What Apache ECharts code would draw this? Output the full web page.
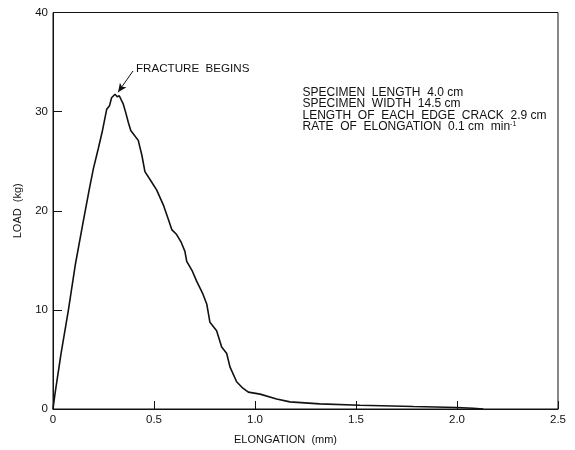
<!DOCTYPE html>
<html>
<head>
<meta charset="utf-8">
<script src="https://cdn.jsdelivr.net/npm/echarts@6/dist/echarts.min.js"></script>
<style>html,body{margin:0;padding:0;background:#fff}#c{width:575px;height:450px}</style>
</head>
<body>
<div id="c"></div>
<script>
var elongation = [0, 0.01, 0.04, 0.076, 0.11, 0.15, 0.18, 0.2, 0.224, 0.245, 0.266, 0.28, 0.29, 0.307, 0.318, 0.328, 0.348, 0.36, 0.373, 0.385, 0.398, 0.422, 0.44, 0.455, 0.485, 0.513, 0.546, 0.57, 0.588, 0.612, 0.635, 0.653, 0.662, 0.69, 0.711, 0.74, 0.761, 0.777, 0.81, 0.835, 0.86, 0.876, 0.909, 0.94, 0.967, 1.025, 1.107, 1.173, 1.32, 1.52, 1.784, 2.0, 2.08, 2.13];
var load = [0, 1.55, 5.6, 9.95, 14.5, 18.95, 22.2, 24.25, 26.25, 28.1, 30.25, 30.6, 31.4, 31.75, 31.5, 31.6, 30.75, 29.9, 28.9, 28.1, 27.75, 27.1, 25.6, 23.95, 23.0, 22.1, 20.6, 19.2, 18.1, 17.6, 16.8, 15.9, 14.9, 13.9, 12.9, 11.7, 10.6, 8.75, 7.9, 6.25, 5.6, 4.25, 2.75, 2.1, 1.7, 1.5, 1.0, 0.72, 0.52, 0.38, 0.25, 0.15, 0.08, 0];
var xTicks = [0, 0.5, 1.0, 1.5, 2.0, 2.5];
var xTickLabels = ['0', '0.5', '1.0', '1.5', '2.0', '2.5'];
var yTicks = [0, 10, 20, 30, 40];
var noteLines = ['SPECIMEN  LENGTH  4.0 cm', 'SPECIMEN  WIDTH  14.5 cm', 'LENGTH  OF  EACH  EDGE  CRACK  2.9 cm', 'RATE  OF  ELONGATION  0.1 cm  min{s|-1}'];
var arrowText = 'FRACTURE  BEGINS';
var arrowFrom = [0.396, 34.1];
var arrowTo = [0.322, 31.95];

var font = 'Liberation Sans, Arial, sans-serif';
var data = elongation.map(function (x, i) { return [x, load[i]]; });
var chart = echarts.init(document.getElementById('c'));
chart.setOption({
  animation: false,
  backgroundColor: '#fff',
  grid: { left: 53, right: 17, top: 12.5, bottom: 37.5, show: true, borderColor: '#111', borderWidth: 1 },
  xAxis: {
    type: 'value', min: 0, max: 2.5, interval: 0.5,
    name: 'ELONGATION  (mm)', nameLocation: 'middle', nameGap: 25,
    nameTextStyle: { color: '#111', fontSize: 11, fontFamily: font, padding: [0, 40, 0, 0] },
    axisLine: { show: true, lineStyle: { color: '#111', width: 1 } },
    axisTick: { show: true, inside: true, length: 8, lineStyle: { color: '#111' } },
    axisLabel: { color: '#111', fontSize: 11.5, fontFamily: font, margin: 5,
      formatter: function (v) { var i = xTicks.indexOf(Math.round(v * 10) / 10); return i >= 0 ? xTickLabels[i] : ''; } },
    splitLine: { show: false }
  },
  yAxis: {
    type: 'value', min: yTicks[0], max: yTicks[yTicks.length - 1], interval: 10,
    name: 'LOAD  (kg)', nameLocation: 'middle', nameGap: 30,
    nameTextStyle: { color: '#111', fontSize: 11, fontFamily: font },
    axisLine: { show: true, lineStyle: { color: '#111', width: 1 } },
    axisTick: { show: true, inside: true, length: 9, lineStyle: { color: '#111' } },
    axisLabel: { color: '#111', fontSize: 11.5, fontFamily: font, margin: 5 },
    splitLine: { show: false }
  },
  series: [{
    type: 'line', data: data, showSymbol: false, smooth: false,
    lineStyle: { color: '#111', width: 1.6 },
    markLine: {
      silent: true, symbol: ['none', 'arrow'], symbolSize: [6, 9],
      lineStyle: { color: '#111', width: 1, type: 'solid' },
      label: { show: false },
      data: [[{ coord: arrowFrom }, { coord: arrowTo }]]
    }
  }]
});

var p = chart.convertToPixel({ gridIndex: 0 }, [arrowFrom[0] + 0.015, arrowFrom[1] + 0.2]);
var graphics = [{
  type: 'text', x: p[0], y: p[1],
  style: { text: arrowText, font: '11.6px ' + font, fill: '#111', textVerticalAlign: 'middle' }
}];
var q = chart.convertToPixel({ gridIndex: 0 }, [1.235, 31.95]);
noteLines.forEach(function (t, i) {
  graphics.push({
    type: 'text', x: q[0], y: q[1] + i * 11.6,
    style: {
      text: t, font: '12px ' + font, fill: '#111', textVerticalAlign: 'middle',
      rich: { s: { fontSize: 7, fontFamily: font, fill: '#111', verticalAlign: 'top', padding: [0, 0, 6, 0] } }
    }
  });
});
chart.setOption({ graphic: graphics });
</script>
</body>
</html>
